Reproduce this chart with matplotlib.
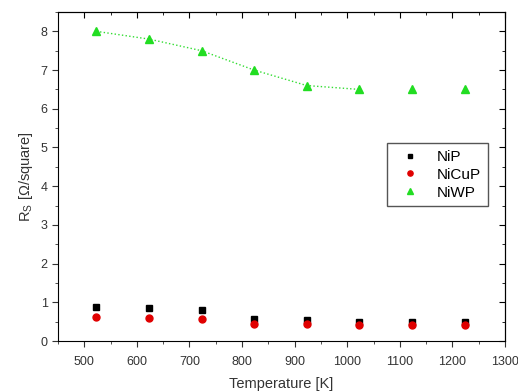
import matplotlib
matplotlib.use('Agg')
import matplotlib.pyplot as plt
from matplotlib.ticker import MultipleLocator

plt.rcParams['font.family'] = ['Liberation Sans', 'DejaVu Sans']

# Sheet resistance vs annealing temperature
temperature = [523, 623, 723, 823, 923, 1023, 1123, 1223]
nip = [0.88, 0.86, 0.80, 0.57, 0.53, 0.50, 0.50, 0.50]
nicup = [0.61, 0.60, 0.56, 0.45, 0.43, 0.42, 0.42, 0.42]
niwp = [8.0, 7.8, 7.5, 7.0, 6.6, 6.5, 6.5, 6.5]
n_line = 6  # guide line through first points of NiWP

fig = plt.figure(figsize=(5.18, 3.92), dpi=100)
ax = fig.add_axes([58 / 518, 1 - 341 / 392, 447 / 518, 329 / 392])

ax.plot(temperature[:n_line], niwp[:n_line], ':', color='#33dd33', linewidth=1.0)
ax.plot(temperature, nip, 's', color='black', markersize=4.5, linestyle='none', label='NiP')
ax.plot(temperature, nicup, 'o', color='#e00000', markersize=5, linestyle='none', label='NiCuP')
ax.plot(temperature, niwp, '^', color='#22dd22', markersize=5.5, linestyle='none', label='NiWP')

ax.set_xlim(450, 1300)
ax.set_ylim(0, 8.5)
ax.xaxis.set_major_locator(MultipleLocator(100))
ax.xaxis.set_minor_locator(MultipleLocator(50))
ax.yaxis.set_major_locator(MultipleLocator(1))
ax.yaxis.set_minor_locator(MultipleLocator(0.5))
ax.tick_params(which='both', direction='out', labelsize=9, colors='#333333')
ax.tick_params(which='major', length=4)
ax.tick_params(which='minor', length=2.5)
ax.tick_params(axis='x', pad=7)

# mirrored axes with inward ticks and no labels
top = ax.secondary_xaxis('top')
top.xaxis.set_major_locator(MultipleLocator(100))
top.xaxis.set_minor_locator(MultipleLocator(50))
top.tick_params(which='both', direction='in', labeltop=False)
top.tick_params(which='major', length=4)
top.tick_params(which='minor', length=2.5)
right = ax.secondary_yaxis('right')
right.yaxis.set_major_locator(MultipleLocator(1))
right.yaxis.set_minor_locator(MultipleLocator(0.5))
right.tick_params(which='both', direction='in', labelright=False)
right.tick_params(which='major', length=4)
right.tick_params(which='minor', length=2.5)

ax.set_xlabel('Temperature [K]', fontsize=10.5, color='#333333', labelpad=6)
ax.set_ylabel(r'R$_\mathregular{S}$ [Ω/square]', fontsize=10.5, color='#333333')

ax.legend(loc='upper left', bbox_to_anchor=(0.72, 0.625), fontsize=11,
          fancybox=False, edgecolor='#555555', framealpha=1,
          handletextpad=0.8, borderpad=0.45, labelspacing=0.25, markerscale=0.75)

plt.savefig('out.png', dpi=100)
